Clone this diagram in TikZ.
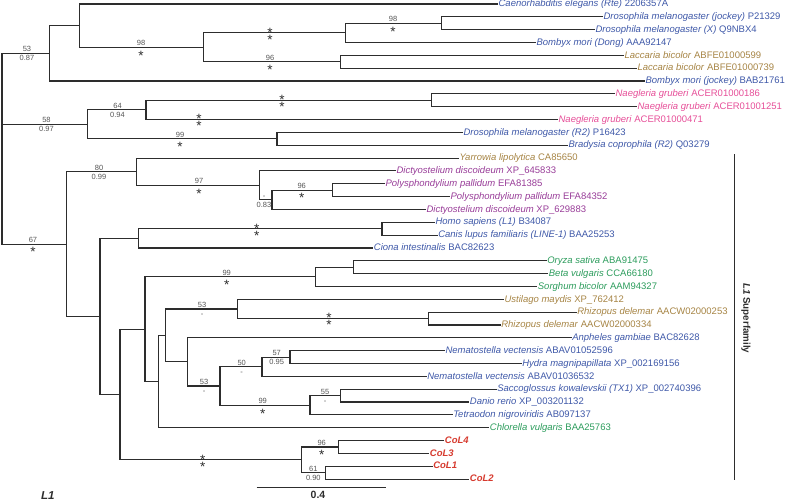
\documentclass[tikz,border=0pt]{standalone}
\usepackage{fontspec}
\setmainfont{Liberation Sans}
\definecolor{brc}{RGB}{45,45,45}
\definecolor{supc}{RGB}{85,85,85}
\definecolor{cblue}{RGB}{62,88,168}
\definecolor{cbrown}{RGB}{166,132,68}
\definecolor{cpink}{RGB}{230,78,152}
\definecolor{cpurple}{RGB}{152,60,152}
\definecolor{cgreen}{RGB}{44,156,92}
\definecolor{cred}{RGB}{214,58,46}
\newcommand\st{\raisebox{-5.3pt}{\fontsize{13.5}{13.5}\selectfont\color{brc}*}}
\newcommand\bsv[5]{\node[sp] (#1t) at (#2,#3-4.2) {#4};\node[sp] (#1b) at (#2,#3+4.8) {#5};}
\newcommand\dstar[3]{\node[dsp] (#1) at (#2,#3+8) {\rlap{\raisebox{3.7pt}{*}}\raisebox{-3.4pt}{*}};}
\begin{document}
\begin{tikzpicture}[x=1pt,y=-1pt,
  br/.style={draw=brc,line width=1.1pt,line join=miter},
  leaf/.style={anchor=west,inner sep=0.4pt,font=\fontsize{9.5}{10}\selectfont,text height=7.4pt,text depth=2pt},
  col/.style={leaf,text=cred,font=\fontsize{9.5}{10}\selectfont\bfseries\itshape},
  sp/.style={inner sep=0pt,font=\fontsize{7.5}{8}\selectfont,text=supc,text height=5.4pt,text depth=0pt},
  dsp/.style={inner sep=0pt,anchor=base,font=\fontsize{13.5}{13.5}\selectfont,text=brc}]
\useasboundingbox (0,0) rectangle (791,501);
% leaves
\node[leaf,text=cblue] (l1) at (498,4) {\textit{Caenorhabditis elegans (Rte)} 2206357A};
\node[leaf,text=cblue] (l2) at (603,16.84) {\textit{Drosophila melanogaster (jockey)} P21329};
\node[leaf,text=cblue] (l3) at (595,29.68) {\textit{Drosophila melanogaster (X)} Q9NBX4};
\node[leaf,text=cblue] (l4) at (536,42.52) {\textit{Bombyx mori (Dong)} AAA92147};
\node[leaf,text=cbrown] (l5) at (624,55.36) {\textit{Laccaria bicolor} ABFE01000599};
\node[leaf,text=cbrown] (l6) at (637,68.2) {\textit{Laccaria bicolor} ABFE01000739};
\node[leaf,text=cblue] (l7) at (645,81.04) {\textit{Bombyx mori (jockey)} BAB21761};
\node[leaf,text=cpink] (l8) at (615,93.88) {\textit{Naegleria gruberi} ACER01000186};
\node[leaf,text=cpink] (l9) at (637,106.72) {\textit{Naegleria gruberi} ACER01001251};
\node[leaf,text=cpink] (l10) at (558,119.56) {\textit{Naegleria gruberi} ACER01000471};
\node[leaf,text=cblue] (l11) at (463,132.4) {\textit{Drosophila melanogaster (R2)} P16423};
\node[leaf,text=cblue] (l12) at (568,145.24) {\textit{Bradysia coprophila (R2)} Q03279};
\node[leaf,text=cbrown] (l13) at (459,158.08) {\textit{Yarrowia lipolytica} CA85650};
\node[leaf,text=cpurple] (l14) at (396,170.92) {\textit{Dictyostelium discoideum} XP\_645833};
\node[leaf,text=cpurple] (l15) at (385,183.76) {\textit{Polysphondylium pallidum} EFA81385};
\node[leaf,text=cpurple] (l16) at (450,196.6) {\textit{Polysphondylium pallidum} EFA84352};
\node[leaf,text=cpurple] (l17) at (426,209.44) {\textit{Dictyostelium discoideum} XP\_629883};
\node[leaf,text=cblue] (l18) at (435,222.28) {\textit{Homo sapiens (L1)} B34087};
\node[leaf,text=cblue] (l19) at (437.7,235.12) {\textit{Canis lupus familiaris (LINE-1)} BAA25253};
\node[leaf,text=cblue] (l20) at (373.3,247.96) {\textit{Ciona intestinalis} BAC82623};
\node[leaf,text=cgreen] (l21) at (546.7,260.8) {\textit{Oryza sativa} ABA91475};
\node[leaf,text=cgreen] (l22) at (548.3,273.64) {\textit{Beta vulgaris} CCA66180};
\node[leaf,text=cgreen] (l23) at (537.3,286.48) {\textit{Sorghum bicolor} AAM94327};
\node[leaf,text=cbrown] (l24) at (504,299.32) {\textit{Ustilago maydis} XP\_762412};
\node[leaf,text=cbrown] (l25) at (576.7,312.16) {\textit{Rhizopus delemar} AACW02000253};
\node[leaf,text=cbrown] (l26) at (500.7,325) {\textit{Rhizopus delemar} AACW02000334};
\node[leaf,text=cblue] (l27) at (571.7,337.84) {\textit{Anpheles gambiae} BAC82628};
\node[leaf,text=cblue] (l28) at (445,350.68) {\textit{Nematostella vectensis} ABAV01052596};
\node[leaf,text=cblue] (l29) at (521.7,363.52) {\textit{Hydra magnipapillata} XP\_002169156};
\node[leaf,text=cblue] (l30) at (426.7,376.36) {\textit{Nematostella vectensis} ABAV01036532};
\node[leaf,text=cblue] (l31) at (496.7,389.2) {\textit{Saccoglossus kowalevskii (TX1)} XP\_002740396};
\node[leaf,text=cblue] (l32) at (469.3,402.04) {\textit{Danio rerio} XP\_003201132};
\node[leaf,text=cblue] (l33) at (452.7,414.88) {\textit{Tetraodon nigroviridis} AB097137};
\node[leaf,text=cgreen] (l34) at (489.3,427.72) {\textit{Chlorella vulgaris} BAA25763};
\node[col] (l35) at (444.3,440.56) {CoL4};
\node[col] (l36) at (429.3,453.4) {CoL3};
\node[col] (l37) at (432.7,466.24) {CoL1};
\node[col] (l38) at (469.3,479.08) {CoL2};
% internal nodes
\coordinate (A4) at (441.7,23.26);
\coordinate (A3) at (345.7,32.89);
\coordinate (A5) at (340.7,61.78);
\coordinate (A2) at (203.3,47.335);
\coordinate (A1) at (79.3,25.67);
\coordinate (A) at (49.3,53.355);
\coordinate (B2) at (431.7,100.3);
\coordinate (B1) at (146,109.93);
\coordinate (B3) at (277,138.82);
\coordinate (B) at (87.3,124.375);
\coordinate (C4) at (332.3,190.18);
\coordinate (C3) at (272,199.81);
\coordinate (C2) at (259.3,185.365);
\coordinate (C1) at (136.3,171.72);
\coordinate (C7) at (382,228.7);
\coordinate (C6) at (138.3,238.33);
\coordinate (C11) at (353.3,267.22);
\coordinate (C10) at (315.5,276.85);
\coordinate (R) at (428.3,318.58);
\coordinate (U) at (237.3,308.95);
\coordinate (C17) at (290,357.1);
\coordinate (C16) at (262,366.73);
\coordinate (C19) at (340.7,395.62);
\coordinate (C18) at (310,405.25);
\coordinate (C15) at (220,385.99);
\coordinate (C14) at (187.3,361.915);
\coordinate (C13) at (165.7,335.43);
\coordinate (C12) at (158.3,381.575);
\coordinate (C9) at (145,329.21);
\coordinate (C20) at (338.3,446.98);
\coordinate (C21) at (325.3,472.66);
\coordinate (CoL) at (301.7,459.82);
\coordinate (C8) at (120,394.515);
\coordinate (C5) at (100,316.42);
\coordinate (C) at (66.7,244.07);
\coordinate (root) at (2,148);
% branches
\draw[br] (l2) -| (A4) |- (l3);
\draw[br] (A4) -| (A3) |- (l4);
\draw[br] (l5) -| (A5) |- (l6);
\draw[br] (A3) -| (A2) |- (A5);
\draw[br] (l1) -| (A1) |- (A2);
\draw[br] (A1) -| (A) |- (l7);
\draw[br] (l8) -| (B2) |- (l9);
\draw[br] (B2) -| (B1) |- (l10);
\draw[br] (l11) -| (B3) |- (l12);
\draw[br] (B1) -| (B) |- (B3);
\draw[br] (l15) -| (C4) |- (l16);
\draw[br] (C4) -| (C3) |- (l17);
\draw[br] (l14) -| (C2) |- (C3);
\draw[br] (l13) -| (C1) |- (C2);
\draw[br] (l18) -| (C7) |- (l19);
\draw[br] (C7) -| (C6) |- (l20);
\draw[br] (l21) -| (C11) |- (l22);
\draw[br] (C11) -| (C10) |- (l23);
\draw[br] (l25) -| (R) |- (l26);
\draw[br] (l24) -| (U) |- (R);
\draw[br] (l28) -| (C17) |- (l29);
\draw[br] (C17) -| (C16) |- (l30);
\draw[br] (l31) -| (C19) |- (l32);
\draw[br] (C19) -| (C18) |- (l33);
\draw[br] (C16) -| (C15) |- (C18);
\draw[br] (l27) -| (C14) |- (C15);
\draw[br] (U) -| (C13) |- (C14);
\draw[br] (C13) -| (C12) |- (l34);
\draw[br] (C10) -| (C9) |- (C12);
\draw[br] (l35) -| (C20) |- (l36);
\draw[br] (l37) -| (C21) |- (l38);
\draw[br] (C20) -| (CoL) |- (C21);
\draw[br] (C9) -| (C8) |- (CoL);
\draw[br] (C6) -| (C5) |- (C8);
\draw[br] (C1) -| (C) |- (C5);
\draw[br] (A) -| (root) |- (C);
\draw[br] (B) -- (B -| root);
\draw[brc,line width=2.2pt] (2.3,117) -- (2.3,184);
% support values
\bsv{sA}{27}{53.355}{53}{0.87}
\bsv{sA2}{141}{47.335}{98}{\st}
\dstar{sA3}{270}{32.89}
\bsv{sA4}{393}{23.26}{98}{\st}
\bsv{sA5}{270}{61.78}{96}{\st}
\bsv{sB}{46.5}{124.375}{58}{0.97}
\bsv{sB1}{117.5}{109.93}{64}{0.94}
\dstar{sB2}{282}{100.3}
\dstar{sN}{199}{119.56}
\bsv{sB3}{180}{138.82}{99}{\st}
\bsv{sC}{33}{244.07}{67}{\st}
\bsv{sC1}{99}{171.72}{80}{0.99}
\bsv{sC2}{199}{185.365}{97}{\st}
\bsv{sC3}{264}{199.81}{-}{0.83}
\bsv{sC4}{301.7}{190.18}{96}{\st}
\dstar{sC7}{256.7}{228.7}
\bsv{sC10}{226.7}{276.85}{99}{\st}
\bsv{sU}{202}{308.95}{53}{-}
\dstar{sR}{329}{318.58}
\bsv{sC15}{204}{385.99}{53}{-}
\bsv{sC16}{241.7}{366.73}{50}{-}
\bsv{sC17}{276.7}{357.1}{57}{0.95}
\bsv{sC18}{262.7}{405.25}{99}{\st}
\bsv{sC19}{325}{395.62}{55}{-}
\dstar{sCoL}{202.7}{459.82}
\bsv{sC20}{321.7}{446.98}{96}{\st}
\bsv{sC21}{313.3}{472.66}{61}{0.90}
% scale bar
\coordinate (sb1) at (256.7,487.3);
\coordinate (sb2) at (385.7,487.3);
\draw[brc,line width=0.9pt] (sb1) -- (sb2);
\node[inner sep=0pt,font=\fontsize{10.5}{11}\selectfont\bfseries,text=brc] (sbl) at (318,495) {0.4};
\node[inner sep=0pt,font=\fontsize{11.5}{12}\selectfont\bfseries\itshape,text=brc] (L1) at (47.8,496) {L1};
% L1 superfamily bar
\coordinate (bt) at (734,154);
\coordinate (bb) at (734,480);
\draw[brc,line width=1pt] (bt) -- (bb);
\node[rotate=-90,inner sep=0pt,font=\fontsize{9.8}{10}\selectfont\bfseries,text=brc] (sf) at (746,318.3) {\textit{L1} Superfamily};
\end{tikzpicture}
\end{document}
